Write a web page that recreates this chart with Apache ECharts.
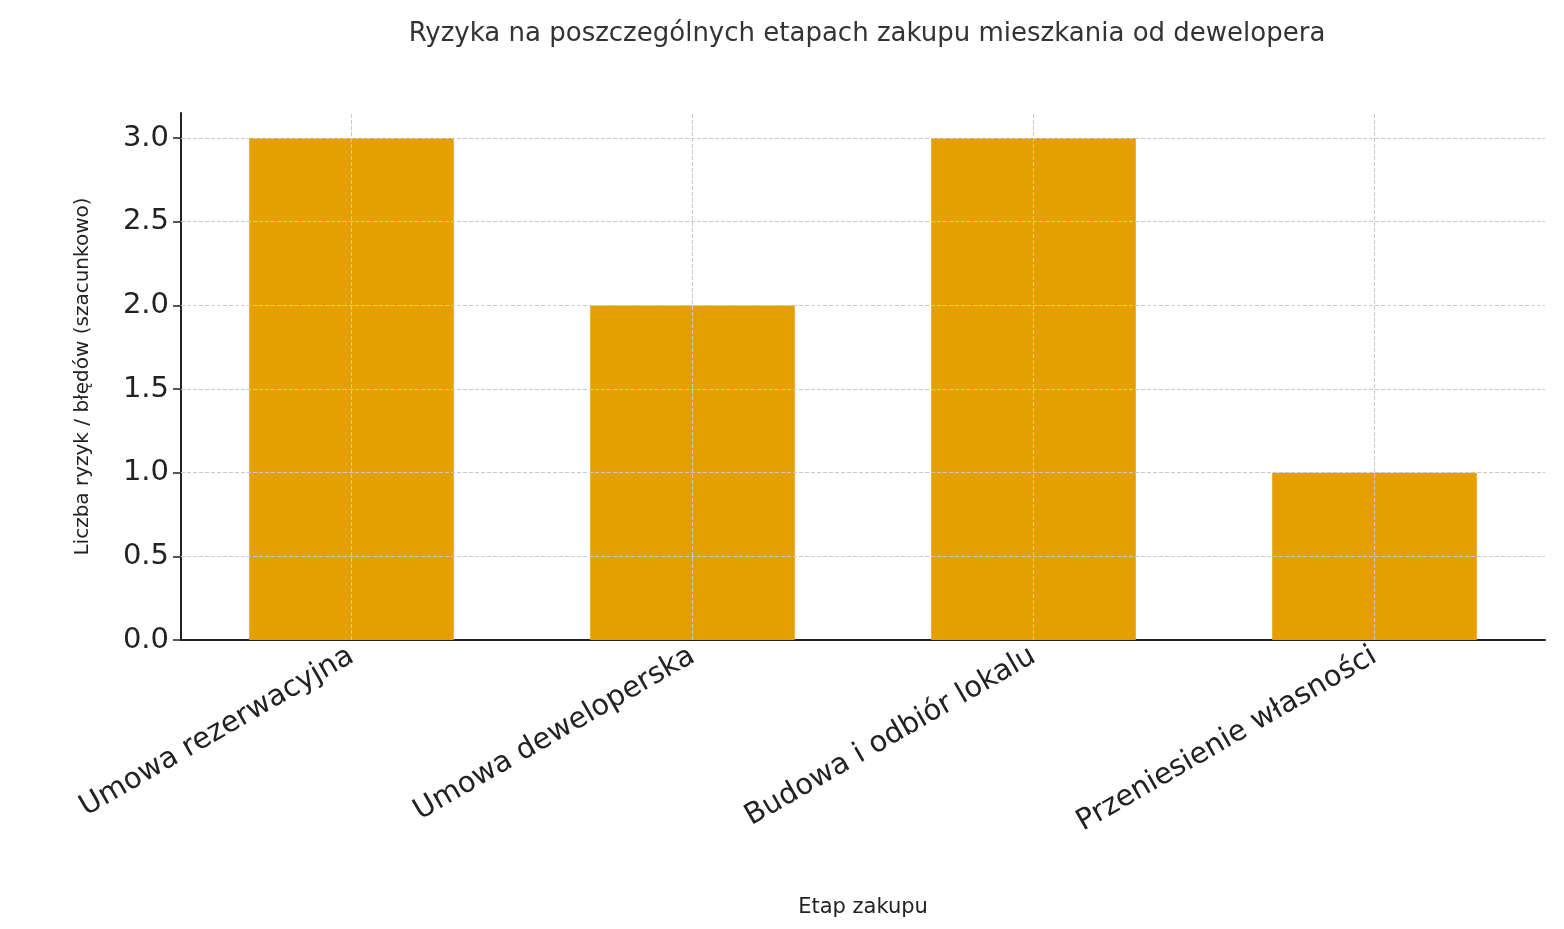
<!DOCTYPE html>
<html><head><meta charset="utf-8">
<script src="https://cdn.jsdelivr.net/npm/echarts@6/dist/echarts.min.js"></script>
<style>html,body{margin:0;padding:0;background:#fff}#c{width:1564px;height:929px}</style>
</head><body><div id="c"></div>
<script>
const categories = ["Umowa rezerwacyjna","Umowa deweloperska","Budowa i odbiór lokalu","Przeniesienie własności"];
const values = [3, 2, 3, 1];
const yTicks = [0.5, 1.0, 1.5, 2.0, 2.5, 3.0];
const font = "DejaVu Sans";
const gl = {type:'dashed',color:'#c8c8c8',width:1};
const chart = echarts.init(document.getElementById('c'));
chart.setOption({
  animation:false,
  textStyle:{fontFamily:font},
  title:{text:"Ryzyka na poszczególnych etapach zakupu mieszkania od dewelopera",left:862,top:16,textAlign:'center',
    textStyle:{fontFamily:font,fontSize:26,fontWeight:'normal',color:'#333'}},
  grid:{left:181,right:19,top:113,bottom:289,containLabel:false},
  xAxis:{type:'category',data:categories,
    name:'Etap zakupu',nameLocation:'middle',nameGap:257,nameTextStyle:{fontFamily:font,fontSize:21,color:'#222'},
    axisLine:{lineStyle:{color:'#222',width:2}},
    axisTick:{alignWithLabel:true,length:8,lineStyle:{color:'#222',width:1.5}},
    axisLabel:{rotate:30,fontSize:29,color:'#222',margin:14,interval:0},
    splitLine:{show:false}},
  yAxis:{type:'value',min:0,max:3.15,interval:0.5,
    name:'Liczba ryzyk / błędów (szacunkowo)',nameLocation:'middle',nameGap:88,
    nameTextStyle:{fontFamily:font,fontSize:20,color:'#222'},
    axisLine:{show:true,lineStyle:{color:'#222',width:2}},
    axisTick:{show:true,length:8,lineStyle:{color:'#222',width:1.5}},
    axisLabel:{fontSize:29,color:'#222',margin:12,formatter:v=>v.toFixed(1),showMaxLabel:false},
    splitLine:{show:false}},
  series:[{type:'bar',data:values,barWidth:'60%',itemStyle:{color:'#E69F00'},
    markLine:{silent:true,symbol:'none',label:{show:false},lineStyle:gl,
      data:[...categories.map(c=>({xAxis:c})),...yTicks.map(v=>({yAxis:v}))]}}]
});
</script></body></html>
